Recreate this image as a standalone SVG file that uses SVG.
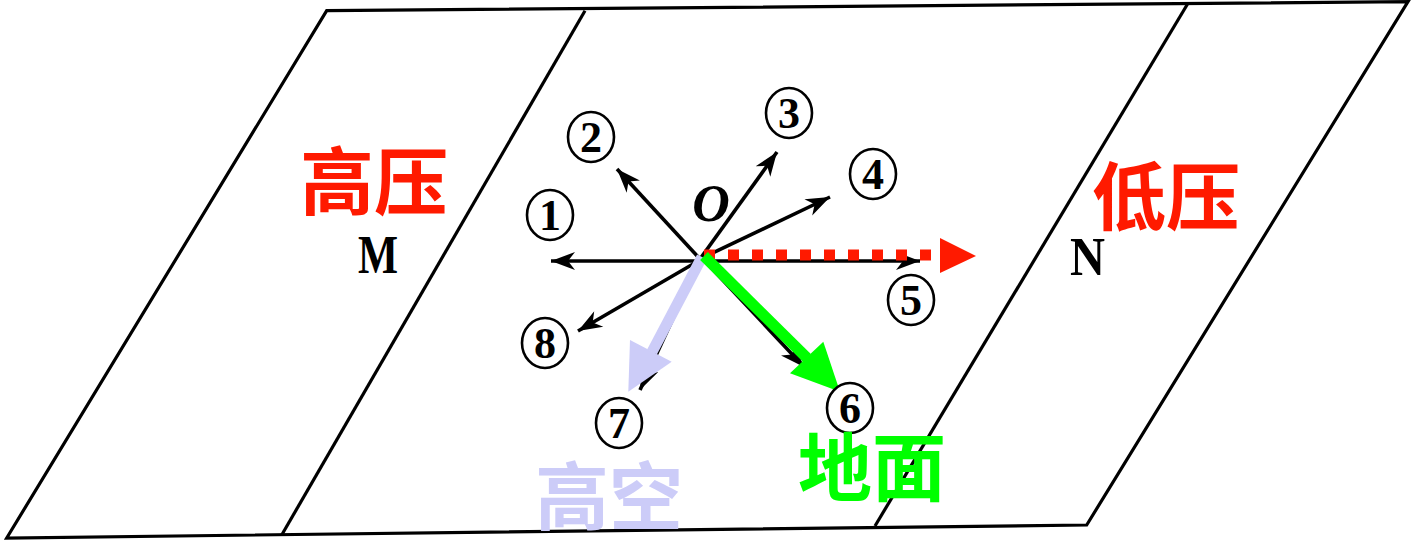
<svg xmlns="http://www.w3.org/2000/svg" width="1413" height="541" viewBox="0 0 1413 541">
<style>
.frame{fill:none;stroke:#000;stroke-width:3.2;stroke-linejoin:miter}
.ar{fill:none;stroke:#000;stroke-width:3.6;marker-end:url(#blk)}
.circ{fill:#fff;stroke:#000;stroke-width:2.6}
.num{font-family:"Liberation Serif",serif;font-weight:bold;font-size:44px;text-anchor:middle;fill:#000}
.lbl{font-family:"Liberation Serif",serif;font-weight:bold;fill:#000}
.cjk{font-family:"Noto Sans CJK SC",sans-serif;font-weight:bold;font-size:74px}
</style>
<defs>
<marker id="blk" markerUnits="userSpaceOnUse" viewBox="-26 -11 28 22" refX="0" refY="0" markerWidth="28" markerHeight="22" orient="auto">
<path d="M0,0 L-24,-9 L-17,0 L-24,9 Z" fill="#000"/>
</marker>
</defs>
<rect width="1413" height="541" fill="#fff"/>
<g id="frame">
<path class="frame" d="M326.7,10.7 L1408,1.7 L1086.7,525 L6.7,538 Z"/>
<line class="frame" x1="585" y1="10.7" x2="281.7" y2="535"/>
<line class="frame" x1="1188" y1="3.3" x2="875" y2="526"/>
</g>
<g id="connectors">
<line class="ar" x1="700" y1="261" x2="551" y2="261"/>
<line class="ar" x1="700" y1="259" x2="617" y2="169"/>
<line class="ar" x1="700" y1="259" x2="777" y2="152"/>
<line class="ar" x1="700" y1="259" x2="830" y2="197"/>
<line class="ar" x1="700" y1="261" x2="920" y2="261"/>
<line class="ar" x1="703" y1="259" x2="804" y2="367"/>
<line class="ar" x1="700" y1="260" x2="640" y2="390"/>
<line class="ar" x1="700" y1="260" x2="578" y2="331"/>
<line x1="704" y1="255" x2="932" y2="255" stroke="#FF1A00" stroke-width="11" stroke-dasharray="11 13"/>
<path d="M940,238 L976,256 L940,273 Z" fill="#FF1A00"/>
<line x1="702" y1="257" x2="652" y2="352" stroke="#CCCCF8" stroke-width="11"/>
<path d="M630,340 L671.7,361.7 L628.3,391.7 Z" fill="#CCCCF8"/>
<line x1="704" y1="256" x2="807" y2="358" stroke="#00FF00" stroke-width="11"/>
<path d="M823.3,341.7 L790,373.3 L840,391.7 Z" fill="#00FF00"/>
</g>
<g id="n1"><ellipse class="circ" cx="550" cy="215" rx="23" ry="25"/><text class="num" x="550" y="230">1</text></g>
<g id="n2"><ellipse class="circ" cx="591" cy="137" rx="23" ry="25"/><text class="num" x="591" y="152">2</text></g>
<g id="n3"><ellipse class="circ" cx="789" cy="113" rx="23" ry="25"/><text class="num" x="789" y="128">3</text></g>
<g id="n4"><ellipse class="circ" cx="873" cy="174" rx="23" ry="25"/><text class="num" x="873" y="189">4</text></g>
<g id="n5"><ellipse class="circ" cx="911" cy="300" rx="23" ry="25"/><text class="num" x="911" y="315">5</text></g>
<g id="n6"><ellipse class="circ" cx="850" cy="408" rx="23" ry="25"/><text class="num" x="850" y="423">6</text></g>
<g id="n7"><ellipse class="circ" cx="619" cy="423" rx="23" ry="25"/><text class="num" x="619" y="438">7</text></g>
<g id="n8"><ellipse class="circ" cx="545" cy="343" rx="23" ry="25"/><text class="num" x="545" y="358">8</text></g>
<g id="O"><text class="lbl" x="711" y="221" font-size="52" font-style="italic" text-anchor="middle">O</text></g>
<g id="M"><text class="lbl" x="358" y="273" font-size="54" textLength="40" lengthAdjust="spacingAndGlyphs">M</text></g>
<g id="N"><text class="lbl" x="1070" y="275" font-size="54" font-weight="normal" textLength="35" lengthAdjust="spacingAndGlyphs">N</text></g>
<g id="high"><text class="cjk" x="300" y="209" fill="#FF1A00">高压</text></g>
<g id="low"><text class="cjk" x="1092" y="224" fill="#FF1A00">低压</text></g>
<g id="ground"><text class="cjk" x="798" y="495" fill="#00FF00">地面</text></g>
<g id="upper"><text class="cjk" x="535" y="524" fill="#CCCCF8">高空</text></g>
</svg>
